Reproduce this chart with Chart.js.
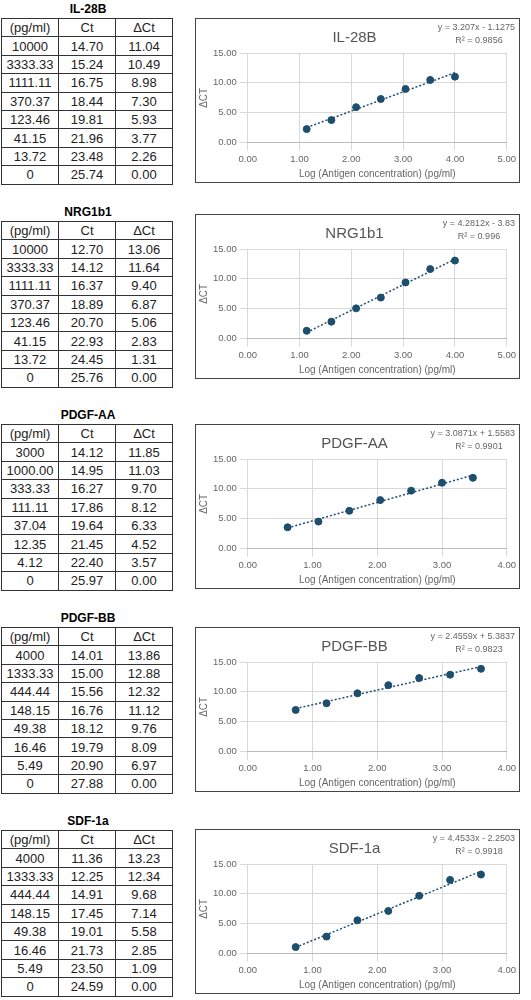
<!DOCTYPE html><html><head><meta charset="utf-8">
<script src="https://cdn.jsdelivr.net/npm/chart.js@4/dist/chart.umd.min.js"></script>
<style>
body{margin:0;background:#fff;font-family:"Liberation Sans",Arial,sans-serif;width:531px;height:1000px;position:relative;overflow:hidden}
.ttl{position:absolute;left:0;width:176px;text-align:center;font-weight:bold;font-size:12px}
table{position:absolute;left:1px;border-collapse:collapse;font-size:13px;color:#222}
td{border:1px solid #333;width:56px;height:17.4px;padding:0;text-align:center;line-height:17px}
.box{position:absolute;left:195px;width:325px;height:165px;border:1px solid #444;box-sizing:border-box}
canvas{display:block}
</style></head><body>
<script>
const names=["IL-28B","NRG1b1","PDGF-AA","PDGF-BB","SDF-1a"];
const conc=[
["10000","3333.33","1111.11","370.37","123.46","41.15","13.72","0"],
["10000","3333.33","1111.11","370.37","123.46","41.15","13.72","0"],
["3000","1000.00","333.33","111.11","37.04","12.35","4.12","0"],
["4000","1333.33","444.44","148.15","49.38","16.46","5.49","0"],
["4000","1333.33","444.44","148.15","49.38","16.46","5.49","0"]];
const ct=[
["14.70","15.24","16.75","18.44","19.81","21.96","23.48","25.74"],
["12.70","14.12","16.37","18.89","20.70","22.93","24.45","25.76"],
["14.12","14.95","16.27","17.86","19.64","21.45","22.40","25.97"],
["14.01","15.00","15.56","16.76","18.12","19.79","20.90","27.88"],
["11.36","12.25","14.91","17.45","19.01","21.73","23.50","24.59"]];
const dct=[
["11.04","10.49","8.98","7.30","5.93","3.77","2.26","0.00"],
["13.06","11.64","9.40","6.87","5.06","2.83","1.31","0.00"],
["11.85","11.03","9.70","8.12","6.33","4.52","3.57","0.00"],
["13.86","12.88","12.32","11.12","9.76","8.09","6.97","0.00"],
["13.23","12.34","9.68","7.14","5.58","2.85","1.09","0.00"]];
const slopes=[3.207,4.2812,3.0871,2.4559,4.4533];
const intercepts=[-1.1275,-3.83,1.5583,5.3837,-2.2503];
const eqText=["y = 3.207x - 1.1275","y = 4.2812x - 3.83","y = 3.0871x + 1.5583","y = 2.4559x + 5.3837","y = 4.4533x - 2.2503"];
const r2Text=["0.9856","0.996","0.9901","0.9823","0.9918"];
const xMax=[5,5,4,4,4];
const tableTop=[18,221,424,627,830];
const boxTop=[18,214,424,627,829];
const C='#1d4e6e';
names.forEach((n,i)=>{
  const t=document.createElement('div');t.className='ttl';t.style.top=(tableTop[i]-16)+'px';t.textContent=n;document.body.appendChild(t);
  const tb=document.createElement('table');tb.style.top=tableTop[i]+'px';
  let h='<tr><td>(pg/ml)</td><td>Ct</td><td>ΔCt</td></tr>';
  for(let k=0;k<8;k++)h+=`<tr><td>${conc[i][k]}</td><td>${ct[i][k]}</td><td>${dct[i][k]}</td></tr>`;
  tb.innerHTML=h;document.body.appendChild(tb);
  const b=document.createElement('div');b.className='box';b.style.top=boxTop[i]+'px';
  const cv=document.createElement('canvas');b.appendChild(cv);document.body.appendChild(b);
  const pts=[];for(let k=0;k<7;k++){const c=parseFloat(conc[i][k]);pts.push({x:Math.log10(c),y:parseFloat(dct[i][k])});}
  const x0=pts[6].x,x1=pts[0].x;
  const tl=[{x:x0,y:slopes[i]*x0+intercepts[i]},{x:x1,y:slopes[i]*x1+intercepts[i]}];
  new Chart(cv,{type:'scatter',data:{datasets:[
    {data:pts,backgroundColor:C,borderColor:C,pointRadius:3.5},
    {type:'line',data:tl,borderColor:C,borderWidth:1.5,borderDash:[2,2],pointRadius:0,fill:false}]},
   options:{responsive:true,maintainAspectRatio:false,animation:false,
    layout:{padding:{top:4,right:8,left:2,bottom:2}},
    plugins:{legend:{display:false},tooltip:{enabled:false},
      title:{display:true,text:n,color:'#555',font:{size:15,weight:'normal',family:'Liberation Sans'},padding:{top:6,bottom:6}}},
    scales:{x:{type:'linear',min:0,max:xMax[i],ticks:{stepSize:1,color:'#666',font:{size:9.5},callback:v=>v.toFixed(2)},grid:{color:'#d9d9d9'},border:{color:'#bbb'},
        title:{display:true,text:'Log (Antigen concentration) (pg/ml)',color:'#666',font:{size:10},padding:0}},
      y:{min:0,max:15,ticks:{stepSize:5,color:'#666',font:{size:9.5},callback:v=>v.toFixed(2)},grid:{color:'#d9d9d9'},border:{display:false},
        title:{display:true,text:'ΔCT',color:'#666',font:{size:10},padding:0}}}},
   plugins:[{id:'eq',afterDraw(ch){const x=ch.ctx;x.save();x.fillStyle='#666';x.font='9px Liberation Sans';x.textAlign='right';
     x.fillText(eqText[i],ch.width-4,11);x.textAlign='center';x.fillText('R² = '+r2Text[i],ch.width-40,24);x.restore();}}]});
});
</script></body></html>
